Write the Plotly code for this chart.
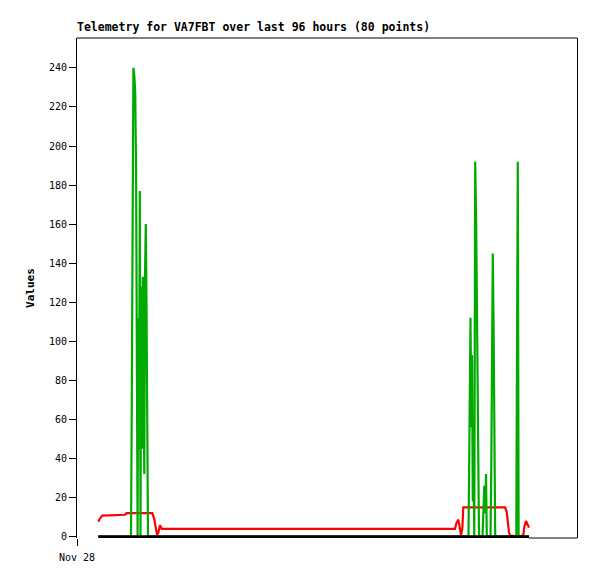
import plotly.graph_objects as go

# hours since Nov 28 00:00
hours = [4.26, 4.46, 5.06, 9.6, 9.9,
         10.8, 10.94, 11.1, 11.28, 11.46, 11.64, 11.82, 12.0, 12.12, 12.24,
         12.4, 12.56, 12.7, 12.84, 13.0, 13.16, 13.32, 13.46, 13.6, 13.76, 13.9,
         14.04, 14.2,
         15.06, 15.46, 15.8, 16.0, 16.26, 16.6, 16.94,
         45.0, 75.6,
         75.9, 76.26, 76.46, 76.6, 76.8, 77.06, 77.26,
         78.3, 78.4, 78.54, 78.7, 78.86, 79.0, 79.16, 79.32, 79.46, 79.64, 79.84,
         80.04, 80.24, 80.4,
         81.1, 81.26, 81.46, 81.64, 81.8, 81.96,
         82.7, 82.86, 83.0, 83.16, 83.32, 83.48, 83.64,
         85.6, 85.94, 86.14, 86.4, 86.6,
         87.86, 88.0, 88.16, 88.32,
         89.26, 89.46, 89.8, 90.06, 90.4]

red = [7.6, 8.8, 10.8, 11.2, 12,
       12, 12, 12, 12, 12, 12, 12, 12, 12, 12,
       12, 12, 12, 12, 12, 12, 12, 12, 12, 12, 12,
       12, 12,
       12, 9, 2.5, 1, 2, 5.8, 4,
       4, 4,
       7, 8.7, 6, 2.5, 0.7, 4, 15,
       15, 15, 15, 15, 15, 15, 15, 15, 15, 15, 15,
       15, 15, 15,
       15, 15, 15, 15, 15, 15,
       15, 15, 15, 15, 15, 15, 15,
       15, 12.7, 6.6, 2.4, 0.5,
       0, 0, 0, 0,
       0.7, 5, 8, 6, 4.6]

green = [0, 0, 0, 0, 0,
         0, 60, 180, 240, 236, 228, 187, 38, 0, 112,
         45, 177, 0, 128, 45, 133, 80, 32, 133, 160, 120,
         40, 0,
         0, 0, 0, 0, 0, 0, 0,
         0, 0,
         0, 0, 0, 0, 0, 0, 0,
         0, 28, 84, 112, 56, 93, 18, 33, 0, 192, 160,
         96, 32, 0,
         0, 16, 26, 12, 32, 0,
         0, 36, 108, 145, 108, 36, 0,
         0, 0, 0, 0, 0,
         0, 97, 192, 0,
         0, 0, 0, 0, 0]

black = [0] * len(hours)

x_tick_vals = [0]
x_tick_text = ["Nov 28"]
y_tick_vals = [0, 20, 40, 60, 80, 100, 120, 140, 160, 180, 200, 220, 240]

mono = "DejaVu Sans Mono"

fig = go.Figure()
fig.add_trace(go.Scatter(x=hours, y=red, mode="lines",
                         line=dict(color="#ff0000", width=2.2)))
fig.add_trace(go.Scatter(x=hours, y=green, mode="lines",
                         line=dict(color="#00aa00", width=2.2)))
fig.add_trace(go.Scatter(x=hours, y=black, mode="lines",
                         line=dict(color="#000000", width=3), hoverinfo="skip"))

X_MAX = 100
# page body adds an 8px offset, so the figure is laid out 8px up/left
W, H = 589, 571
fig.update_layout(
    width=W, height=H,
    margin=dict(l=69, r=20, t=30, b=41),
    paper_bgcolor="white", plot_bgcolor="white",
    showlegend=False,
    font=dict(family=mono, size=10, color="#000000"),
    title=dict(text="<b>Telemetry for VA7FBT over last 96 hours (80 points)</b>",
               x=69 / W, xanchor="left", y=1 - 23 / H, yanchor="bottom",
               font=dict(family=mono, size=11.5, color="#000000"), pad=dict(b=0)),
    xaxis=dict(range=[0, X_MAX], tickvals=x_tick_vals, ticktext=x_tick_text,
               ticks="outside", ticklen=7, tickcolor="#000000",
               showgrid=False, zeroline=False, showline=False,
               ticklabelstandoff=3,
               tickfont=dict(family=mono, size=10)),
    yaxis=dict(range=[-0.7, 255.3], tickvals=y_tick_vals,
               ticks="outside", ticklen=7, tickcolor="#000000",
               showgrid=False, zeroline=False, showline=True, linecolor="#000000",
               linewidth=1, mirror=True,
               title=dict(text="<b>Values</b>", font=dict(family=mono, size=11), standoff=12),
               tickfont=dict(family=mono, size=10)),
)
fig.add_shape(type="line", xref="paper", yref="paper", x0=0, x1=1, y0=1, y1=1,
              line=dict(color="#000000", width=1))
fig.add_shape(type="line", xref="x", yref="paper", x0=hours[-1], x1=X_MAX, y0=0, y1=0,
              line=dict(color="#000000", width=1))

fig.write_html("out.html")
